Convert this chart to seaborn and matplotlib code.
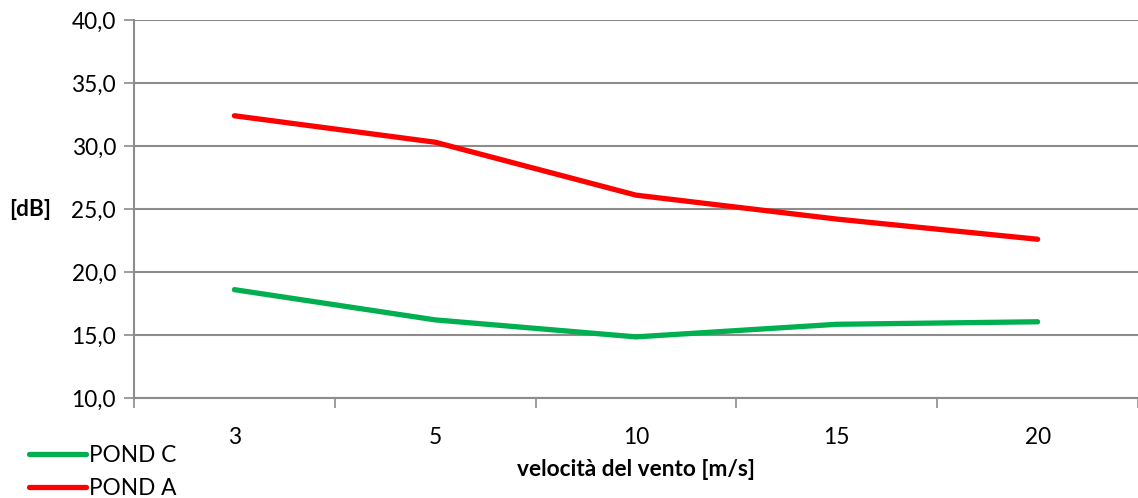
import numpy as np
import pandas as pd
import matplotlib
matplotlib.use("Agg")
import matplotlib.pyplot as plt
import seaborn as sns
from matplotlib.ticker import FixedLocator, FuncFormatter

# --- dati ---
velocita = ["3", "5", "10", "15", "20"]
pond_c = [18.6, 16.2, 14.85, 15.85, 16.05]
pond_a = [32.4, 30.3, 26.1, 24.2, 22.6]

df = pd.DataFrame({
    "velocita": velocita * 2,
    "dB": pond_c + pond_a,
    "serie": ["POND C"] * len(velocita) + ["POND A"] * len(velocita),
})

sns.set_theme(style="white")
plt.rcParams['font.family'] = ['Lato', 'DejaVu Sans']
plt.rcParams['text.color'] = 'black'

fs = 16.3
fig = plt.figure(figsize=(11.38, 4.98), dpi=100)
ax = fig.add_axes([134 / 1138, 1 - 398 / 498, 1 - 134 / 1138, 378 / 498])

grey = "#8c8c8c"
sns.lineplot(data=df, x="velocita", y="dB", hue="serie",
             hue_order=["POND C", "POND A"],
             palette={"POND C": "#00B050", "POND A": "#FF0000"},
             linewidth=3.8, sort=False, ax=ax,
             solid_capstyle="round", solid_joinstyle="round")

ax.set_ylim(10, 40)
ax.set_yticks(np.arange(10, 41, 5))
ax.yaxis.set_major_formatter(FuncFormatter(lambda v, p: f"{v:.1f}".replace(".", ",")))
ax.set_xlim(-0.5, len(velocita) - 0.5)
ax.xaxis.set_major_locator(FixedLocator(np.arange(-0.5, len(velocita), 1.0)))
ax.xaxis.set_minor_locator(FixedLocator(np.arange(len(velocita))))
ax.set_xticklabels([], minor=False)
ax.set_xticklabels(velocita, minor=True)

ax.grid(axis="y", color=grey, linewidth=1.5)
ax.set_axisbelow(True)
for s in ["top", "right"]:
    ax.spines[s].set_visible(False)
for s in ["left", "bottom"]:
    ax.spines[s].set_color(grey)
    ax.spines[s].set_linewidth(1.5)

ax.tick_params(axis="y", which="major", direction="out", length=7, width=1.2,
               color=grey, labelsize=fs, labelcolor="black", pad=6, left=True)
ax.tick_params(axis="x", which="major", direction="out", length=7, width=1.2,
               color=grey, bottom=True)
ax.tick_params(axis="x", which="minor", length=0, labelsize=fs,
               labelcolor="black", pad=21)

ax.set_xlabel("velocità del vento [m/s]", fontsize=fs, fontweight="bold",
              color="black", labelpad=8)
ax.set_ylabel("[dB]", fontsize=fs, fontweight="bold", rotation=0,
              color="black", va="center", ha="center")
ax.yaxis.set_label_coords(-0.1036, 0.5)

ax.legend(loc="upper left", bbox_to_anchor=(-134 / 1004 + 0.02, -0.1),
          frameon=False, fontsize=fs, handlelength=2.5, handletextpad=0.15,
          labelspacing=0.55, borderaxespad=0)

fig.savefig("out.png", dpi=100)
